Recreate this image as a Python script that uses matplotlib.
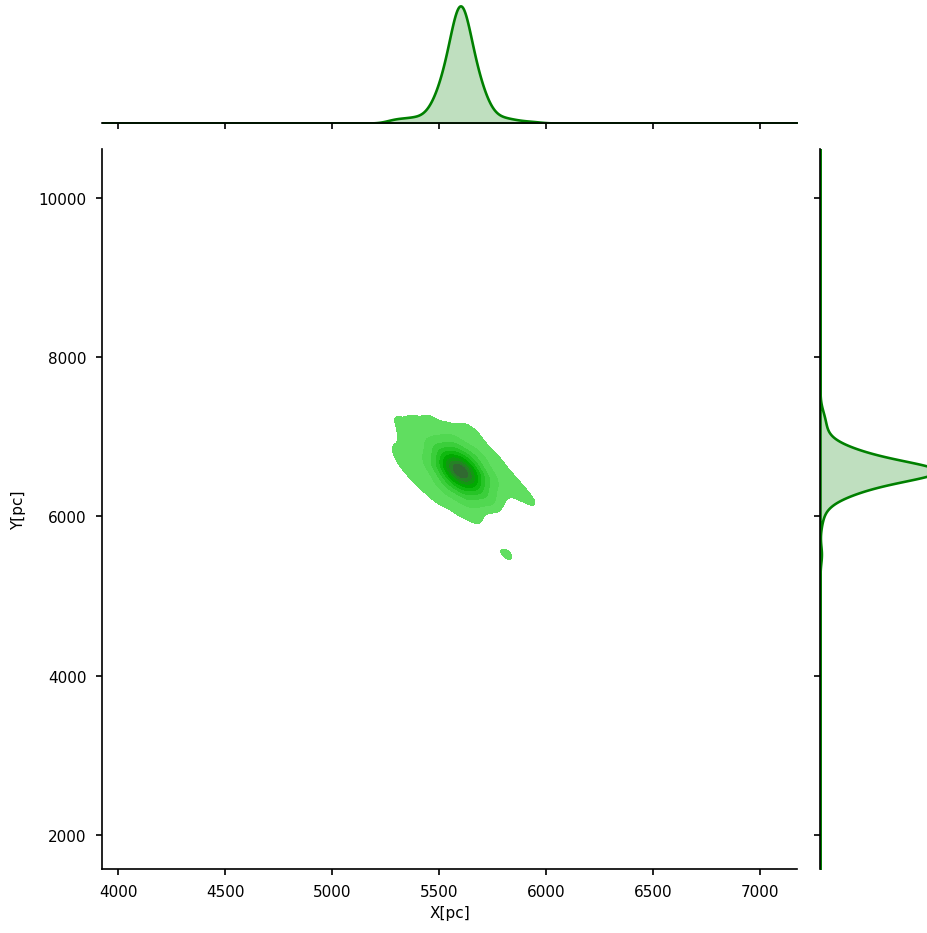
import numpy as np
import matplotlib
matplotlib.use("Agg")
import matplotlib.pyplot as plt
import seaborn as sns

plt.rcParams["axes.linewidth"] = 1.1
plt.rcParams["xtick.major.width"] = 1.1
plt.rcParams["ytick.major.width"] = 1.1
plt.rcParams["xtick.major.size"] = 4
plt.rcParams["ytick.major.size"] = 4
plt.rcParams["xtick.major.pad"] = 6
plt.rcParams["ytick.major.pad"] = 6

# centre of the cluster (pc)
core_x = [5600]
core_y = [6570]
core_w = [60]

# inner ring around the centre
ring1_x = [5666, 5534, 5640, 5560, 5674, 5618, 5582, 5526]
ring1_y = [6392, 6748, 6677, 6463, 6521, 6371, 6769, 6619]
ring1_w = [8, 8, 8, 8, 8, 8, 8, 8]

# outer ring
ring2_x = [5705, 5495, 5663, 5537, 5718, 5629, 5571, 5482]
ring2_y = [6285, 6855, 6740, 6400, 6490, 6250, 6890, 6650]
ring2_w = [4, 4, 4, 4, 4, 4, 4, 4]

# faint halo stars (pc)
halo_x = [5290, 5370, 5450,
          5300, 5380, 5460, 5540, 5610,
          5310, 5390, 5470, 5550, 5630, 5680,
          5280, 5360, 5440, 5520, 5600, 5680,
          5290, 5370, 5450, 5530, 5610, 5690, 5750,
          5310, 5390, 5470, 5550, 5630, 5710, 5780,
          5340, 5420, 5500, 5580, 5660, 5740, 5820,
          5380, 5460, 5540, 5620, 5700, 5780, 5860,
          5420, 5500, 5580, 5660, 5740, 5820, 5890,
          5470, 5550, 5630, 5710, 5790, 5870, 5930,
          5520, 5600, 5680, 5760, 5950,
          5600, 5680,
          5680]
halo_y = [7300, 7300, 7290,
          7190, 7190, 7190, 7180, 7180,
          7060, 7060, 7060, 7060, 7060, 7060,
          6940, 6940, 6940, 6940, 6940, 6940,
          6820, 6820, 6820, 6820, 6820, 6820, 6820,
          6700, 6700, 6700, 6700, 6700, 6700, 6700,
          6580, 6580, 6580, 6580, 6580, 6580, 6580,
          6460, 6460, 6460, 6460, 6460, 6460, 6460,
          6340, 6340, 6340, 6340, 6340, 6340, 6340,
          6220, 6220, 6220, 6220, 6220, 6220, 6220,
          6100, 6100, 6100, 6100, 6120,
          5980, 5980,
          5900]
halo_wt = 0.5

# small detached clump
clump_x = [5815]
clump_y = [5525]
clump_w = [1.3]

xs = core_x + ring1_x + ring2_x + halo_x + clump_x
ys = core_y + ring1_y + ring2_y + halo_y + clump_y
wts = core_w + ring1_w + ring2_w + [halo_wt] * len(halo_x) + clump_w

xlim = (3925, 7173)
ylim = (1573, 10615)
bw = 0.45

dpi = 110
fig = plt.figure(figsize=(928/dpi, 934/dpi), dpi=dpi)
ax = fig.add_axes([102/928, 64/934, 695/928, 720/934])
ax_top = fig.add_axes([102/928, 810/934, 695/928, 123/934], sharex=ax)
ax_right = fig.add_axes([820/928, 64/934, 123/928, 720/934], sharey=ax)

sns.kdeplot(x=xs, y=ys, weights=wts, ax=ax, color="g", fill=True, bw_method=bw)
sns.kdeplot(x=xs, weights=wts, ax=ax_top, color="g", fill=True, bw_method=bw,
            cut=100, clip=xlim, gridsize=2000, linewidth=1.7)
sns.kdeplot(y=ys, weights=wts, ax=ax_right, color="g", fill=True, bw_method=bw,
            cut=100, clip=ylim, gridsize=2000, linewidth=1.7)

ax.set_xlim(xlim)
ax.set_ylim(ylim)
ax.set_xticks(np.arange(4000, 7001, 500))
ax.set_yticks(np.arange(2000, 10001, 2000))
ax.set_xlabel("X[pc]")
ax.set_ylabel("Y[pc]", labelpad=8)
for s in ["top", "right"]:
    ax.spines[s].set_visible(False)

ax_top.set_ylim(bottom=0)
ax_top.set_ylabel("")
ax_top.tick_params(labelbottom=False, left=False, labelleft=False)
for s in ["top", "right", "left"]:
    ax_top.spines[s].set_visible(False)

ax_right.set_xlim(left=0)
ax_right.set_xlabel("")
ax_right.tick_params(labelleft=False, bottom=False, labelbottom=False)
for s in ["top", "right", "bottom"]:
    ax_right.spines[s].set_visible(False)

fig.savefig("out.png", dpi=dpi)
